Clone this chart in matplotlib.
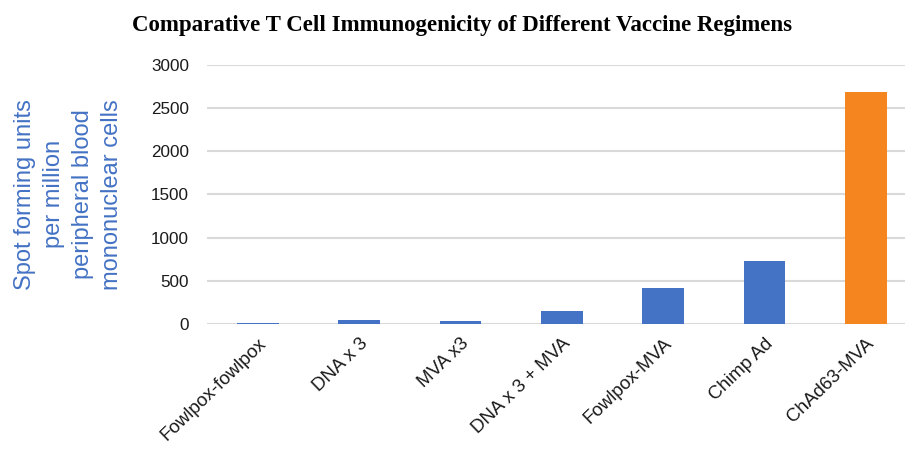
import matplotlib
matplotlib.use("Agg")
import matplotlib.pyplot as plt

regimens = ["Fowlpox-fowlpox", "DNA x 3", "MVA x3", "DNA x 3 + MVA",
            "Fowlpox-MVA", "Chimp Ad", "ChAd63-MVA"]
sfu = [16, 50, 35, 150, 415, 730, 2690]
y_ticks = [0, 500, 1000, 1500, 2000, 2500, 3000]

blue = "#4472c4"
orange = "#f5861f"
colors = [blue] * 6 + [orange]

plt.rcParams["font.family"] = ["Liberation Sans", "DejaVu Sans"]

fig = plt.figure(figsize=(9.05, 4.5), dpi=100)
ax = fig.add_axes([0.229, 0.28, 0.771, 0.576])

x = list(range(len(regimens)))
ax.bar(x, sfu, width=0.41, color=colors, zorder=3)

ax.set_ylim(0, 3000)
ax.set_yticks(y_ticks)
ax.set_yticklabels([str(t) for t in y_ticks], fontsize=12.3, color="#1a1a1a")
ax.set_xlim(-0.5, 6.386)
ax.set_xticks(x)
ax.set_xticklabels(regimens, fontsize=13.5, rotation=44, ha="right",
                   rotation_mode="anchor", color="#1a1a1a")
ax.tick_params(axis="y", length=0, pad=13)
ax.tick_params(axis="x", length=0, pad=8)
ax.yaxis.grid(True, color="#d9d9d9", linewidth=1.5, zorder=0)
for s in ax.spines.values():
    s.set_visible(False)

ax.set_ylabel("Spot forming units\nper million\nperipheral blood\nmononuclear cells",
              fontsize=17, color=blue, linespacing=1.42, labelpad=20)

fig.text(0.511, 0.944, "Comparative T Cell Immunogenicity of Different Vaccine Regimens",
         ha="center", va="center", fontsize=16.5, fontweight="bold",
         family="Liberation Serif")

fig.savefig("out.png", dpi=100)
